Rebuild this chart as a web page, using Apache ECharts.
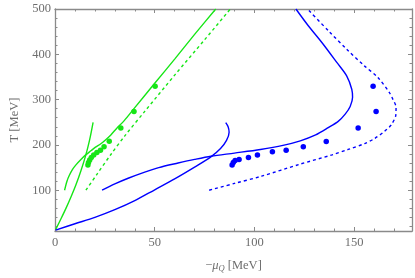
<!DOCTYPE html>
<html><head><meta charset="utf-8">
<script src="https://cdn.jsdelivr.net/npm/echarts@6/dist/echarts.min.js"></script>
<style>html,body{margin:0;padding:0;background:#fff}#c{width:415px;height:278px}</style>
</head><body><div id="c"></div>
<script>
// ---- data (x = -mu_Q [MeV], y = T [MeV]) ----
const greenSteep = [[0.3,13],[3,37],[5.6,61],[8,85],[10.5,112],[13,143],[15.4,177],[17.3,210],[19.1,250]];
const greenCurve = [[4.8,100],[6,120],[7.2,133],[8.8,146],[10.5,156],[13,168],[15.4,178],[18,187],[20.3,195],[22.8,202],[25.3,211],[28,222],[31,237],[34.6,253],[39.6,280],[50,336],[60.1,390],[70,444],[80.6,500]];
const greenDashed = [[15.5,100],[21,135],[28.2,180],[35,220],[45,274],[60,354],[75,432],[88.3,502]];
const greenDots = [[16.5,155.5],[16.8,161],[17.4,166.7],[18.2,172],[19.4,178],[21,183.5],[22.8,188.5],[24.6,196],[27.2,208],[33,237.4],[39.6,273.6],[50.2,329.7]];
const blueLower = [[0.3,12],[10,26],[20,40],[30,57],[40,77],[50,101],[60,125],[70,151],[78,173],[83,192],[86,210],[87.3,228],[86.8,240],[85.6,249]];
const blueUpper = [[23.6,100],[30,114],[37,127],[45,140],[52,150],[61.7,160],[70,168],[78.2,175],[90,182],[103,190],[114.3,199],[123,209],[130.7,222],[137,238],[142,252],[145.5,268],[148,285],[149.2,305],[148.8,323],[146.3,352],[141.4,381.5],[134,425],[127,463],[120.8,500]];
const blueDashed = [[77.3,100],[90,115],[103.6,131],[122.5,157],[138.9,178],[147,190],[155.3,203],[160.2,214],[165.2,230],[168.5,244],[170.9,266],[171,283],[169.5,300],[167.6,316],[161.9,348.7],[155,375],[146.5,410],[137.5,450],[126.6,500]];
const blueDots = [[88.8,155.7],[89.4,161],[90.3,165.5],[92.3,168],[97,172.5],[101.5,178],[109,185],[115.9,188.5],[124.5,196],[136,207.5],[152,237.4],[161,273.6],[159.5,329.7]];
const xMajor = [0,50,100,150];
const xMinor = [10,20,30,40,60,70,80,90,110,120,130,140,160,170];
const yMajor = [100,200,300,400,500];
const yMinor = [20,40,60,80,120,140,160,180,220,240,260,280,320,340,360,380,420,440,460,480];
const xRange = [0,179];
const yRange = [10,500];

const GREEN = '#16e616', BLUE = '#0000ff';
const FRAME = '#8a8a8a', TXT = '#6e6e6e';
const FONT = 'Liberation Serif';

function ax(kind, pos, vals, len, line, label){
  return {
    type:'value', position:pos,
    min:(kind==='x'?xRange:yRange)[0], max:(kind==='x'?xRange:yRange)[1],
    splitLine:{show:false},
    axisLine:{show:line, onZero:false, lineStyle:{color:FRAME,width:1.3}},
    axisTick:{show:true, inside:true, length:len, customValues:vals, lineStyle:{color:FRAME,width:1}},
    axisLabel:{show:label, customValues:vals, color:TXT, fontFamily:FONT, fontSize:12.5, margin:kind==='x'?5:4},
  };
}
const xAxes = [ax('x','bottom',xMajor,4,true,true), ax('x','bottom',xMinor,2.5,false,false), ax('x','top',xMajor,4,true,false), ax('x','top',xMinor,2.5,false,false)];
const yAxes = [ax('y','left',yMajor,4,true,true), ax('y','left',yMinor,2.5,false,false), ax('y','right',yMajor,4,true,false), ax('y','right',yMinor,2.5,false,false)];
xAxes[0].name = '{a|\u2212}{mu|\u03bc}{sub|Q}{a| [MeV]}';
xAxes[0].nameLocation = 'middle';
xAxes[0].nameGap = 28;
xAxes[0].nameTextStyle = {color:TXT, fontFamily:FONT, fontSize:12.5, rich:{
  a:{color:TXT,fontFamily:FONT,fontSize:12.5},
  mu:{color:TXT,fontFamily:FONT,fontSize:12.5,fontStyle:'italic'},
  sub:{color:TXT,fontFamily:FONT,fontSize:8.5,fontStyle:'italic',verticalAlign:'bottom',padding:[5,0,0,0]}
}};
yAxes[0].name = 'T [MeV]';
yAxes[0].nameLocation = 'middle';
yAxes[0].nameGap = 34;
yAxes[0].nameTextStyle = {color:TXT, fontFamily:FONT, fontSize:12.5};

function line(data,color,dashed){
  return {type:'line', data:data, xAxisIndex:0, yAxisIndex:0, showSymbol:false, smooth:0.3, clip:true, silent:true,
    lineStyle:{color:color, width:1.4, type:dashed?[3,3]:'solid'}};
}
function dots(data,color){
  return {type:'scatter', data:data, xAxisIndex:0, yAxisIndex:0, symbolSize:5.5, itemStyle:{color:color, opacity:1}, silent:true};
}
const chart = echarts.init(document.getElementById('c'), null, {renderer:'canvas'});
chart.setOption({
  animation:false,
  backgroundColor:'#fff',
  grid:{left:48, right:3, top:9, bottom:45, containLabel:false},
  xAxis:xAxes, yAxis:yAxes,
  series:[
    line(greenSteep,GREEN,false), line(greenCurve,GREEN,false), line(greenDashed,GREEN,true), dots(greenDots,GREEN),
    line(blueLower,BLUE,false), line(blueUpper,BLUE,false), line(blueDashed,BLUE,true), dots(blueDots,BLUE)
  ]
});
</script></body></html>
